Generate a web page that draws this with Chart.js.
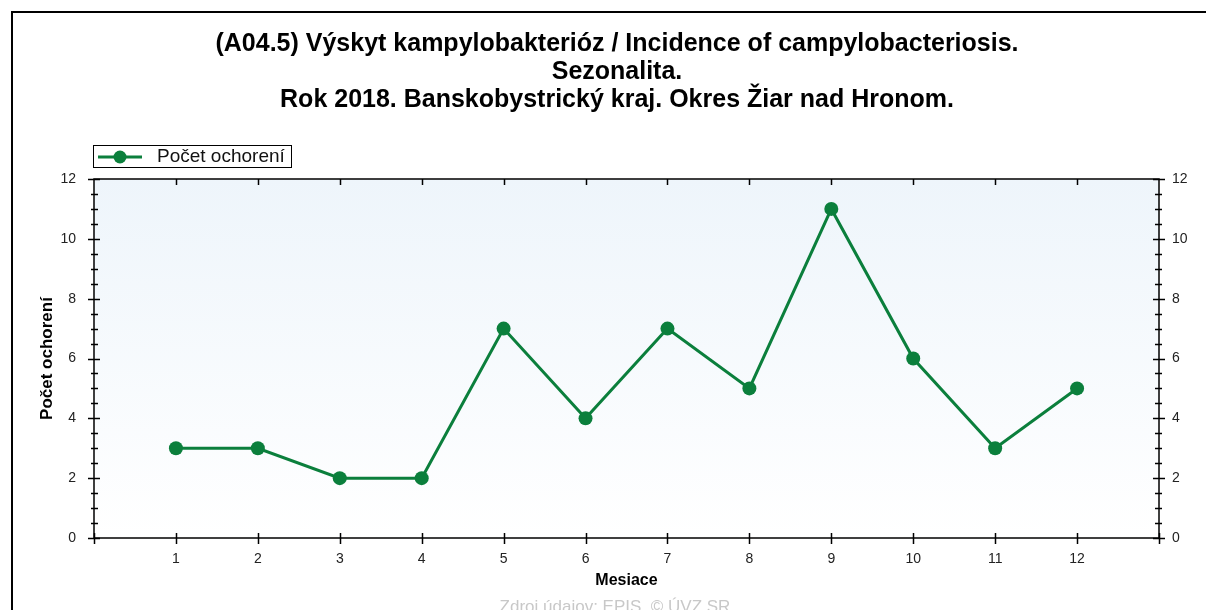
<!DOCTYPE html>
<html><head><meta charset="utf-8">
<script src="https://cdn.jsdelivr.net/npm/chart.js@4/dist/chart.umd.min.js"></script>
<style>html,body{margin:0;padding:0;background:#fff;overflow:hidden}</style>
</head><body>
<canvas id="c" width="1206" height="610"></canvas>
<script>
const titleLines = [
  '(A04.5) Výskyt kampylobakterióz / Incidence of campylobacteriosis.',
  'Sezonalita.',
  'Rok 2018. Banskobystrický kraj. Okres Žiar nad Hronom.'
];
const months = [1, 2, 3, 4, 5, 6, 7, 8, 9, 10, 11, 12];
const cases = [3, 3, 2, 2, 7, 4, 7, 5, 11, 6, 3, 5];
const yTickValues = [0, 2, 4, 6, 8, 10, 12];
const seriesLabel = 'Počet ochorení';
const xAxisTitle = 'Mesiace';
const yAxisTitle = 'Počet ochorení';
const sourceText = 'Zdroj údajov: EPIS, © ÚVZ SR';

const FONT = "'Liberation Sans', Arial, sans-serif";
const GREEN = '#0b7f3c';
const TICKC = '#222';

const decor = {
  id: 'decor',
  beforeDraw(chart) {
    const ctx = chart.ctx;
    ctx.save();
    ctx.fillStyle = '#fff';
    ctx.fillRect(0, 0, chart.width, chart.height);
    // outer frame
    ctx.strokeStyle = '#000';
    ctx.lineWidth = 2;
    ctx.beginPath();
    ctx.moveTo(12, chart.height);
    ctx.lineTo(12, 12);
    ctx.lineTo(chart.width, 12);
    ctx.stroke();
    // titles
    ctx.fillStyle = '#000';
    ctx.font = 'bold 25px ' + FONT;
    ctx.textAlign = 'center';
    ctx.textBaseline = 'middle';
    titleLines.forEach((t, i) => ctx.fillText(t, 617, 44 + i * 28));
    // plot background
    const a = chart.chartArea;
    const g = ctx.createLinearGradient(0, a.top, 0, a.bottom);
    g.addColorStop(0, '#eef5fb');
    g.addColorStop(1, '#ffffff');
    ctx.fillStyle = g;
    ctx.fillRect(a.left, a.top, a.right - a.left, a.bottom - a.top);
    // legend
    ctx.lineWidth = 1;
    ctx.strokeStyle = '#000';
    ctx.strokeRect(93.5, 145.5, 198, 22);
    ctx.strokeStyle = GREEN;
    ctx.lineWidth = 3;
    ctx.beginPath(); ctx.moveTo(98, 157); ctx.lineTo(142, 157); ctx.stroke();
    ctx.fillStyle = GREEN;
    ctx.beginPath(); ctx.arc(120, 157, 6.5, 0, Math.PI * 2); ctx.fill();
    ctx.fillStyle = '#111';
    ctx.font = '19px ' + FONT;
    ctx.textAlign = 'left';
    ctx.fillText(seriesLabel, 157, 157);
    // source
    ctx.fillStyle = '#c8c8c8';
    ctx.font = '17px ' + FONT;
    ctx.textAlign = 'center';
    ctx.fillText(sourceText, 615, 607);
    ctx.restore();
  },
  beforeDatasetsDraw(chart) {
    const ctx = chart.ctx;
    const a = chart.chartArea;
    const xs = chart.scales.x, ys = chart.scales.y;
    ctx.save();
    ctx.strokeStyle = '#000';
    ctx.lineWidth = 1.5;
    ctx.strokeRect(a.left, a.top, a.right - a.left, a.bottom - a.top);
    ctx.beginPath();
    for (let v = xs.min; v <= xs.max; v += 1) {
      const px = Math.round(xs.getPixelForValue(v)) + 0.5;
      ctx.moveTo(px, a.bottom - 5); ctx.lineTo(px, a.bottom + 6);
      if (v > xs.min && v < xs.max) { ctx.moveTo(px, a.top); ctx.lineTo(px, a.top + 6); }
    }
    for (let v = ys.min; v <= ys.max; v += 0.5) {
      const py = Math.round(ys.getPixelForValue(v)) + 0.5;
      const major = (v % 2 === 0);
      if (major) {
        ctx.moveTo(a.left - 6, py); ctx.lineTo(a.left + 6, py);
        ctx.moveTo(a.right - 6, py); ctx.lineTo(a.right + 6, py);
      } else {
        ctx.moveTo(a.left - 3, py); ctx.lineTo(a.left + 4, py);
        ctx.moveTo(a.right - 4, py); ctx.lineTo(a.right + 3, py);
      }
    }
    ctx.stroke();
    ctx.restore();
  }
};

new Chart(document.getElementById('c'), {
  type: 'line',
  data: {
    datasets: [{
      label: seriesLabel,
      data: months.map((m, i) => ({ x: m, y: cases[i] })),
      borderColor: GREEN,
      backgroundColor: GREEN,
      borderWidth: 3,
      pointRadius: 7,
      pointHoverRadius: 7,
      pointBorderWidth: 0,
      tension: 0,
      clip: false
    }]
  },
  options: {
    responsive: false,
    animation: false,
    events: [],
    layout: { padding: { top: 179, left: 0, right: 0, bottom: 0 } },
    plugins: { legend: { display: false }, title: { display: false }, tooltip: { enabled: false } },
    scales: {
      x: {
        type: 'linear', position: 'bottom', min: 0, max: 13,
        afterFit: s => { s.height = 72; },
        afterBuildTicks: s => { s.ticks = months.map(m => ({ value: m })); },
        ticks: { autoSkip: false, maxRotation: 0, padding: 13, color: TICKC, font: { family: FONT, size: 14 },
          callback: v => String(v) },
        grid: { display: false, drawTicks: false },
        border: { display: false },
        title: { display: true, text: xAxisTitle, color: '#000', font: { family: FONT, size: 16, weight: 'bold' }, padding: { top: 0, bottom: 20 } }
      },
      y: {
        position: 'left', min: 0, max: 12,
        afterFit: s => { s.width = 94; },
        afterBuildTicks: s => { s.ticks = yTickValues.map(v => ({ value: v })); },
        ticks: { padding: 18, color: TICKC, font: { family: FONT, size: 14 } },
        grid: { display: false, drawTicks: false },
        border: { display: false },
        title: { display: true, text: yAxisTitle, color: '#000', font: { family: FONT, size: 17, weight: 'bold' }, padding: { top: 37, bottom: 0 } }
      },
      y2: {
        position: 'right', min: 0, max: 12,
        afterFit: s => { s.width = 47; },
        afterBuildTicks: s => { s.ticks = yTickValues.map(v => ({ value: v })); },
        ticks: { padding: 13, color: TICKC, font: { family: FONT, size: 14 } },
        grid: { display: false, drawTicks: false },
        border: { display: false }
      }
    }
  },
  plugins: [decor]
});
</script>
</body></html>
